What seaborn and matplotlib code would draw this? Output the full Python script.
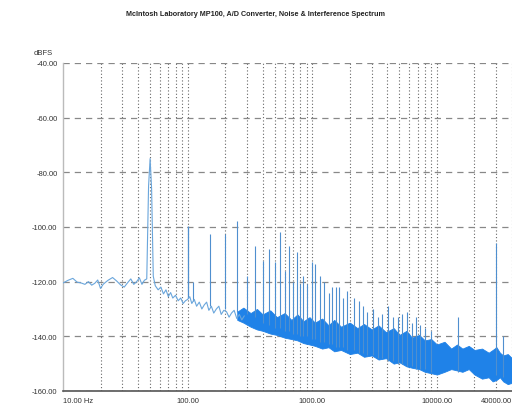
import numpy as np
import pandas as pd
import matplotlib
matplotlib.use("Agg")
import matplotlib.pyplot as plt
import seaborn as sns

title = "McIntosh Laboratory MP100, A/D Converter, Noise & Interference Spectrum"
y_label = "dBFS"
y_ticks = [-160, -140, -120, -100, -80, -60, -40]
x_ticks = [10, 100, 1000, 10000, 40000]
x_tick_labels = ["10.00 Hz", "100.00", "1000.00", "10000.00", "40000.00"]

# low-frequency trace (Hz, dBFS)
low_f = [10, 11, 12, 13, 14, 15, 16, 17, 18, 19, 20, 21, 22, 23, 25, 27, 29, 31,
         33, 35, 37, 39, 41, 43, 45, 47, 48.6, 50, 51.4, 53, 55, 58, 61, 64, 67,
         70, 73, 76, 80, 84, 88, 92, 96, 100, 104, 108, 113, 118, 124, 130, 136,
         142, 148, 155, 162, 170, 178, 186, 195, 205, 215, 225, 236, 248, 260, 272, 285]
low_db = [-120.5, -119.5, -118.8, -120.2, -120.5, -121.0, -120.0, -121.3, -120.6, -119.4,
          -122.5, -121.0, -120.2, -119.5, -118.5, -119.8, -121.2, -122.0,
          -120.4, -119.0, -121.0, -120.0, -118.6, -121.0, -119.5, -119.0, -85.0, -75.0, -86.0,
          -118.0, -121.5, -123.0, -122.0, -124.5, -123.0, -125.5, -124.0, -126.0, -125.0,
          -127.0, -126.0, -128.0, -127.0, -126.5, -125.5, -128.0, -126.5, -129.0, -127.5,
          -130.0, -128.5, -127.5, -130.5, -129.0, -131.5, -130.0, -129.0, -132.0, -130.5,
          -131.0, -133.0, -131.5, -130.5, -133.5, -132.0, -134.0, -132.5]

# noise band envelope above 250 Hz (Hz, upper dBFS, lower dBFS)
band_f = [250, 280, 320, 360, 400, 460, 520, 600, 680, 760, 850, 950, 1050, 1200, 1350,
          1500, 1700, 2000, 2300, 2600, 3000, 3400, 3900, 4500, 5000, 5700, 6300, 7200,
          8000, 9000, 10000, 11500, 13000, 14500, 16000, 18000, 20000, 23000, 26000,
          28000, 30000, 32000, 34000, 37000, 40000]
band_hi = [-131.0, -129.5, -131.5, -130.0, -132.0, -130.5, -133.0, -131.5, -134.0, -132.0,
           -134.5, -133.0, -135.0, -133.5, -136.0, -134.0, -136.5, -135.0, -137.0, -135.5,
           -137.5, -136.0, -138.5, -137.0, -139.5, -138.0, -140.5, -139.5, -141.5, -141.0,
           -143.0, -142.0, -144.5, -143.0, -144.5, -143.5, -145.0, -144.5, -146.0, -145.0,
           -144.0, -146.0, -147.0, -146.5, -148.0]
band_lo = [-134.0, -135.0, -136.5, -137.5, -138.0, -139.0, -139.5, -140.5, -141.0, -141.5,
           -142.5, -143.0, -143.5, -144.5, -144.0, -145.5, -145.0, -146.5, -146.0, -147.5,
           -147.0, -148.5, -148.0, -150.0, -149.5, -151.0, -151.5, -152.0, -153.0, -153.5,
           -154.0, -153.0, -152.0, -152.5, -153.0, -152.0, -154.0, -155.5, -155.0, -156.5,
           -156.0, -155.0, -156.5, -157.5, -157.0]

# interference spikes (Hz, peak dBFS, base dBFS)
spike_f = [110, 150, 200, 250, 300, 350, 400, 450, 500, 550, 600, 650, 700, 750, 800, 850,
           900, 1000, 1050, 1150, 1250, 1350, 1450, 1550, 1650, 1750, 1900, 2150, 2350,
           2550, 2750, 3050, 3350, 3650, 4050, 4450, 4850, 5250, 5750, 6250, 6750, 7250,
           8000, 9000, 14700, 30000, 33700]
spike_db = [-120, -102.6, -102.6, -97.8, -118, -107, -112.4, -108, -113, -101.8, -116, -107, -120,
            -109, -121, -118, -121, -112.8, -113.5, -118, -120, -124, -122, -122, -122, -126,
            -123.5, -126, -127, -129, -131, -130, -133, -132, -129, -133, -133, -132, -131,
            -135, -133, -136, -137, -138, -133, -106, -140]
spike_base = [-127, -129, -130, -131, -132, -133, -135, -136, -137, -137, -138, -138, -139,
              -139, -140, -140, -140, -141, -141, -142, -142, -143, -143, -144, -144, -144,
              -145, -145, -146, -146, -147, -147, -148, -148, -149, -149, -150, -150, -151,
              -151, -152, -152, -152, -153, -153, -154, -155]
spike_100_f = [100]
spike_100_db = [-99.5]

blue = "#1f82e8"
spike_blue = "#4f8fcf"
line_blue = "#6aa6dc"

sns.set_theme(style="white")
plt.rcParams["font.family"] = ["Liberation Sans", "DejaVu Sans"]

fig = plt.figure(figsize=(5.12, 4.10), dpi=100)
ax = fig.add_axes([0.123, 0.044, 0.877, 0.800])

ax.set_xscale("log")
ax.set_xlim(10, 39000)
ax.set_ylim(-160, -40)

# grid
minor_pos = [m * 10 ** d for d in range(1, 5) for m in range(2, 10)]
minor_pos = [p for p in minor_pos if p <= 40000] + [100, 1000, 10000]
for p in minor_pos:
    ax.axvline(p, color="#666666", lw=0.8, ls=(0, (1, 2)), zorder=1)
for yv in y_ticks:
    ax.axhline(yv, color="#888888", lw=0.9, ls=(0, (5, 4)), zorder=1)

# noise band
ax.fill_between(band_f, band_lo, band_hi, color=blue, lw=0.6, edgecolor=blue, zorder=2)

# spikes
ax.vlines(spike_f, spike_base, spike_db, color=spike_blue, lw=0.8, zorder=3)
ax.vlines(spike_100_f, [-126], spike_100_db, color=spike_blue, lw=0.9, zorder=3)

# low-frequency trace
df_low = pd.DataFrame({"f": low_f, "db": low_db})
sns.lineplot(data=df_low, x="f", y="db", ax=ax, color=line_blue, lw=0.8, sort=False, zorder=4)

# axes styling
for s in ["top", "right"]:
    ax.spines[s].set_visible(False)
ax.spines["left"].set_color("#bbbbbb")
ax.spines["left"].set_linewidth(1.0)
ax.spines["bottom"].set_color("#555555")
ax.spines["bottom"].set_linewidth(1.2)

ax.set_yticks(y_ticks)
ax.set_yticklabels([f"{v:.2f}" for v in y_ticks], fontsize=5.5, color="#333333")
ax.set_xticks(x_ticks)
ax.set_xticklabels(x_tick_labels, fontsize=5.5, color="#333333")
ax.xaxis.set_minor_locator(matplotlib.ticker.NullLocator())
ax.tick_params(axis="both", length=0, pad=4)
labels = ax.get_xticklabels()
labels[0].set_ha("left")
labels[-1].set_ha("right")
ax.set_xlabel("")
ax.set_ylabel("")

fig.text(0.065, 0.865, y_label, fontsize=5.5, color="#333333")
fig.text(0.5, 0.965, title, fontsize=5.2, fontweight="bold", ha="center", va="center", color="#222222")

fig.savefig("out.png", dpi=100)
